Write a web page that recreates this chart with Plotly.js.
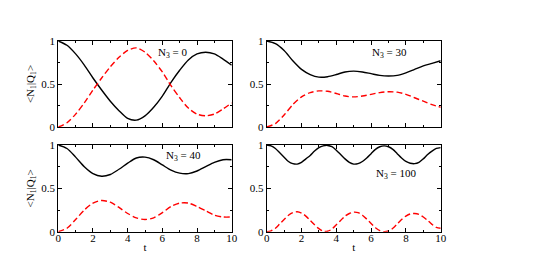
<!DOCTYPE html>
<html>
<head>
<meta charset="utf-8">
<script src="https://cdn.plot.ly/plotly-3.0.1.min.js"></script>
<style>html,body{margin:0;padding:0;background:#fff;}#chart{width:545px;height:273px;}</style>
</head>
<body>
<div id="chart"></div>
<script>
// time grids
const t05 = [0,0.5,1,1.5,2,2.5,3,3.5,4,4.5,5,5.5,6,6.5,7,7.5,8,8.5,9,9.5,10];
const t025 = [0,0.25,0.5,0.75,1,1.25,1.5,1.75,2,2.25,2.5,2.75,3,3.25,3.5,3.75,4,4.25,4.5,4.75,5,5.25,5.5,5.75,6,6.25,6.5,6.75,7,7.25,7.5,7.75,8,8.25,8.5,8.75,9,9.25,9.5,9.75,10];

// N3 = 0
const n0Solid  = [1.00,0.95,0.85,0.72,0.57,0.43,0.30,0.19,0.10,0.08,0.13,0.23,0.36,0.52,0.66,0.78,0.85,0.87,0.85,0.79,0.72];
const n0Dashed = [0.00,0.05,0.15,0.28,0.43,0.57,0.70,0.81,0.89,0.92,0.87,0.77,0.64,0.48,0.34,0.22,0.15,0.13,0.15,0.21,0.28];
// N3 = 30
const n30Solid  = [1.00,0.97,0.89,0.77,0.67,0.61,0.58,0.585,0.61,0.64,0.65,0.64,0.62,0.60,0.593,0.60,0.63,0.67,0.71,0.74,0.77];
const n30Dashed = [0.00,0.04,0.14,0.26,0.35,0.40,0.42,0.415,0.39,0.36,0.35,0.36,0.38,0.40,0.41,0.405,0.38,0.34,0.30,0.26,0.23];
// N3 = 40
const n40Solid  = [1.00,0.96,0.86,0.75,0.67,0.64,0.66,0.72,0.79,0.85,0.86,0.83,0.77,0.71,0.675,0.67,0.70,0.75,0.80,0.83,0.83];
const n40Dashed = [0.00,0.04,0.14,0.25,0.33,0.36,0.34,0.28,0.21,0.16,0.14,0.16,0.22,0.29,0.33,0.33,0.29,0.24,0.19,0.17,0.17];
// N3 = 100
const n100Solid  = [1.00,0.99,0.96,0.91,0.86,0.81,0.785,0.78,0.80,0.84,0.88,0.93,0.97,0.99,0.995,0.98,0.94,0.89,0.84,0.80,0.78,0.785,0.81,0.85,0.90,0.95,0.98,0.99,0.98,0.95,0.90,0.85,0.81,0.79,0.785,0.80,0.84,0.89,0.93,0.96,0.97];
const n100Dashed = [0.00,0.01,0.04,0.09,0.14,0.19,0.22,0.23,0.215,0.18,0.13,0.08,0.035,0.005,0.005,0.03,0.08,0.13,0.18,0.21,0.225,0.22,0.19,0.145,0.095,0.045,0.012,0.0,0.01,0.04,0.09,0.14,0.18,0.205,0.21,0.20,0.17,0.13,0.085,0.05,0.04];

const panelLabels = ['N<sub>3</sub> = 0','N<sub>3</sub> = 30','N<sub>3</sub> = 40','N<sub>3</sub> = 100'];
const labelPos = [[6.6,0.86],[7.06,0.86],[7.2,0.87],[7.45,0.67]];
const xTicks = [0,2,4,6,8,10];
const yTicks = [0,0.5,1];
const yTickText = ['0','0.5','1'];

const FONT = 'Liberation Serif';
const sets = [[t05,n0Solid,n0Dashed],[t05,n30Solid,n30Dashed],[t05,n40Solid,n40Dashed],[t025,n100Solid,n100Dashed]];
const traces = [];
sets.forEach((s,i)=>{
  const ax = i===0 ? '' : String(i+1);
  traces.push({x:s[0], y:s[1], mode:'lines', line:{color:'black', width:1.4, shape:'spline', smoothing:0.8}, xaxis:'x'+ax, yaxis:'y'+ax, hoverinfo:'skip'});
  traces.push({x:s[0], y:s[2], mode:'lines', line:{color:'#ff0000', width:1.4, dash:'6px,3px', shape:'spline', smoothing:0.8}, xaxis:'x'+ax, yaxis:'y'+ax, hoverinfo:'skip'});
});

const xd = [[58.3/545,231.7/545],[266.7/545,440.7/545]];
const yd = [[1-127/273,1-41/273],[1-231.7/273,1-145/273]];

function xAxis(dom, anchor, labels){
  const ax = {domain:dom, anchor:anchor, range:[0,10], showgrid:false, zeroline:false,
    showline:true, linecolor:'black', linewidth:1, mirror:'allticks',
    ticks:'inside', ticklen:4, tickwidth:1, tickcolor:'black',
    tickmode:'array', tickvals:xTicks, ticktext:xTicks.map(String),
    showticklabels:labels, ticklabelstandoff:-4, tickfont:{family:FONT, size:11, color:'black'},
    minor:{ticks:'inside', ticklen:2, dtick:1, tick0:0, tickcolor:'black', showgrid:false}};
  if (labels) ax.title = {text:'t', font:{family:FONT, size:11, color:'black'}, standoff:0};
  return ax;
}
function yAxis(dom, anchor, title){
  const ax = {domain:dom, anchor:anchor, range:[0,1], showgrid:false, zeroline:false,
    showline:true, linecolor:'black', linewidth:1, mirror:'allticks',
    ticks:'inside', ticklen:4, tickwidth:1, tickcolor:'black',
    tickmode:'array', tickvals:yTicks, ticktext:yTickText,
    tickfont:{family:FONT, size:11, color:'black'},
    minor:{ticks:'inside', ticklen:2, dtick:0.25, tick0:0, tickcolor:'black', showgrid:false}};
  if (title) ax.title = {text:'&lt;N<sub>1</sub>|Q<sub>1</sub>&gt;', font:{family:FONT, size:11, color:'black'}, standoff:4};
  return ax;
}

const layout = {
  width:545, height:273, margin:{l:0,r:0,t:0,b:0},
  font:{family:FONT, size:11, color:'black'},
  paper_bgcolor:'white', plot_bgcolor:'white', showlegend:false,
  xaxis: xAxis(xd[0],'y',false),
  yaxis: yAxis(yd[0],'x',true),
  xaxis2: xAxis(xd[1],'y2',false),
  yaxis2: yAxis(yd[0],'x2',false),
  xaxis3: xAxis(xd[0],'y3',true),
  yaxis3: yAxis(yd[1],'x3',true),
  xaxis4: xAxis(xd[1],'y4',true),
  yaxis4: yAxis(yd[1],'x4',false),
  annotations: panelLabels.map((txt,i)=>{
    const ax = i===0 ? '' : String(i+1);
    return {text:txt, x:labelPos[i][0], y:labelPos[i][1], xref:'x'+ax, yref:'y'+ax, showarrow:false,
      font:{family:FONT, size:11, color:'black'}};
  })
};

Plotly.newPlot('chart', traces, layout, {staticPlot:true, displayModeBar:false});
</script>
</body>
</html>
